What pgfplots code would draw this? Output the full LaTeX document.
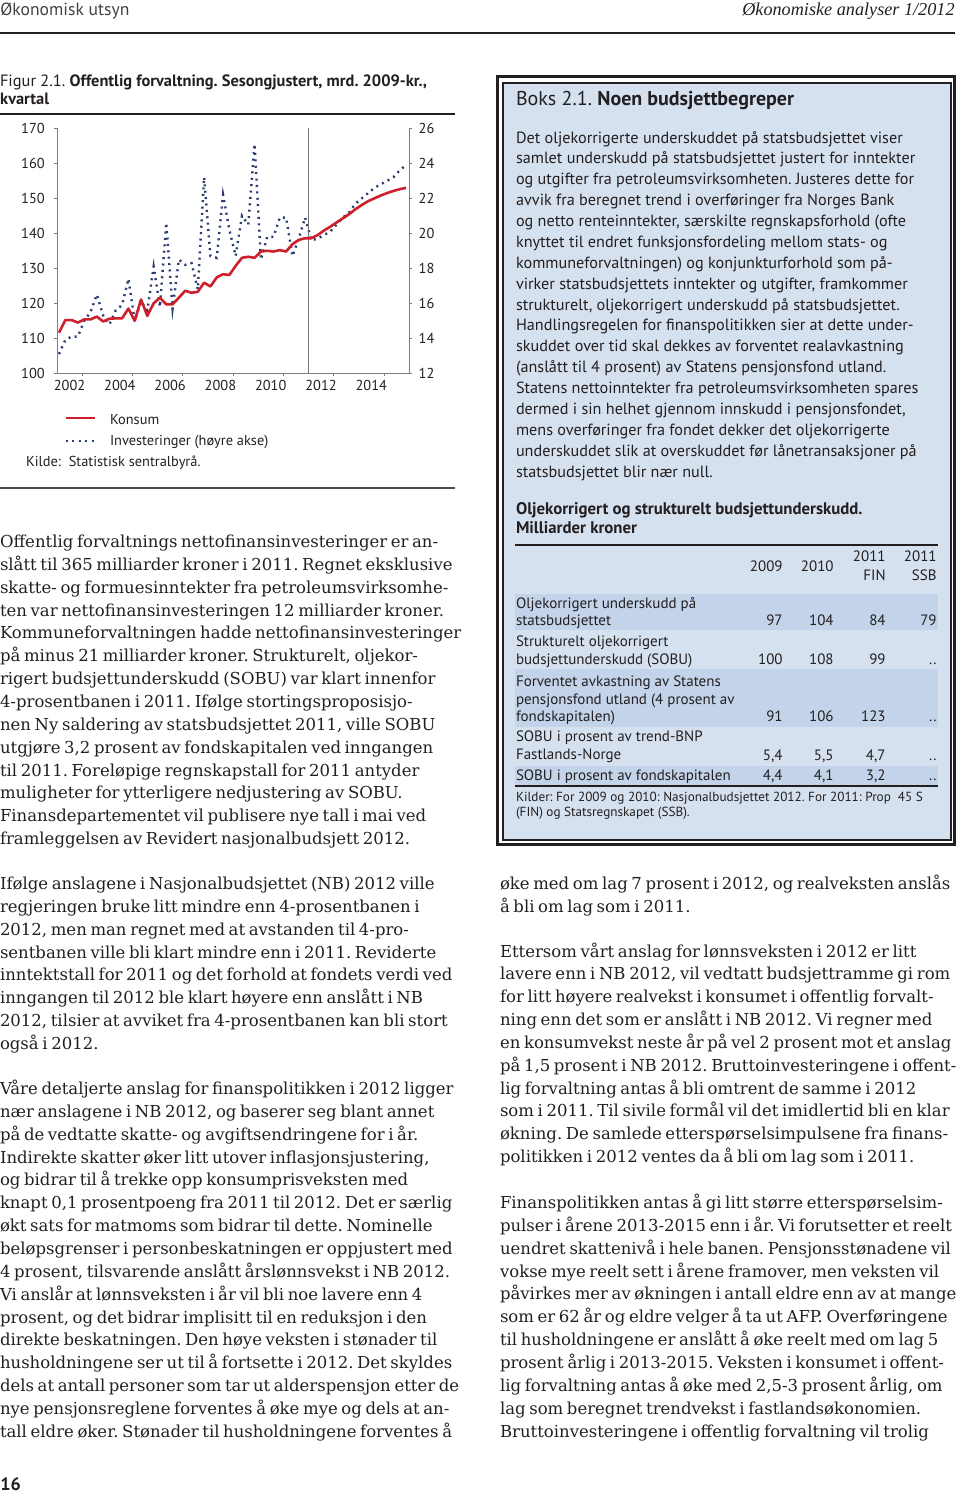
\documentclass[border=0pt]{standalone}
\usepackage{fontspec}
\setmainfont{DejaVu Serif}
\newfontfamily\sans{PT Sans}
\newfontfamily\hdserif{Liberation Serif}
\usepackage{pgfplots}
\pgfplotsset{compat=1.18}

\definecolor{ink}{RGB}{35,31,32}
\definecolor{boxfill}{RGB}{214,225,239}
\definecolor{rowfill}{RGB}{195,211,233}
\definecolor{konsum}{RGB}{205,32,44}
\definecolor{invest}{RGB}{42,60,112}

% text block: x, first baseline (px), font setup, lines separated by \newline
\newcommand\blk[4]{\node[anchor=base west,inner sep=0pt,outer sep=0pt,text=ink]
  at (#1,#2) {\vtop{\hsize=600pt\parindent=0pt\parskip=0pt\frenchspacing #3\ignorespaces #4\par}};}
\newcommand\num[3]{\node[anchor=base east,inner sep=0pt,text=ink,
  font=\sans\fontsize{7.5pt}{9pt}\selectfont] at (#1,#2) {#3};}

\newcommand\body{\fontsize{8.25pt}{11.425pt}\selectfont\spaceskip=0.22em plus 0.05em\relax}
\newcommand\boxt{\sans\fontsize{8.1pt}{10.44pt}\selectfont}
\newcommand\rowt{\sans\fontsize{7.5pt}{8.65pt}\selectfont}

\pgfplotsset{chart/.style={
    scale only axis, width=176pt, height=122.5pt,
    at={(28.5pt,-186.65pt)}, anchor=south west,
    xmin=-0.317, xmax=55.47,
    axis line style={draw=black!50, line width=0.35pt},
    tick style={draw=black!50, line width=0.35pt},
    tick align=outside, major tick length=1.3pt,
    tick label style={font=\sans\fontsize{7.2pt}{8pt}\selectfont, text=ink,
      /pgf/number format/assume math mode=true},
}}

\begin{document}
\begin{tikzpicture}
\useasboundingbox (0,0) rectangle (480pt,-746.5pt);
\begin{scope}[x=0.5pt,y=-0.5pt]

% page header
\node[anchor=base west,inner sep=0pt,text=ink!85,font=\sans\fontsize{8.8pt}{10pt}\selectfont] at (0,16) {Økonomisk utsyn};
\node[anchor=base east,inner sep=0pt,text=ink,font=\hdserif\itshape\fontsize{9.1pt}{11pt}\selectfont] at (955,16) {Økonomiske analyser 1/2012};
\draw[ink, line width=1.1pt] (0,33) -- (955,33);

% figure caption
\blk{0}{87}{\sans\fontsize{8.2pt}{9pt}\selectfont}{Figur 2.1. \textbf{Offentlig forvaltning. Sesongjustert, mrd. 2009-kr.,}\newline \textbf{kvartal}}
\draw[ink, line width=0.6pt] (0,114) -- (455,114);

% legend and source
\draw[konsum, line width=1.3pt] (66,418) -- (95,418);
\draw[invest, line width=1.2pt, dash pattern=on 1pt off 2.2pt] (66,441) -- (95,441);
\blk{110}{424}{\sans\fontsize{7.2pt}{10.5pt}\selectfont}{Konsum\newline Investeringer (høyre akse)}
\blk{26}{466}{\sans\fontsize{7.2pt}{10pt}\selectfont}{Kilde:\ \ Statistisk sentralbyrå.}
\draw[black!70, line width=1pt] (0,488) -- (455,488);

% left column
\blk{0}{547.5}{\body}{Offentlig forvaltnings nettofinansinvesteringer er an-\newline
slått til 365 milliarder kroner i 2011. Regnet eksklusive\newline
skatte- og formuesinntekter fra petroleumsvirksomhe-\newline
ten var nettofinansinvesteringen 12 milliarder kroner.\newline
Kommuneforvaltningen hadde nettofinansinvesteringer\newline
på minus 21 milliarder kroner. Strukturelt, oljekor-\newline
rigert budsjettunderskudd (SOBU) var klart innenfor\newline
4-prosentbanen i 2011. Ifølge stortingsproposisjo-\newline
nen Ny saldering av statsbudsjettet 2011, ville SOBU\newline
utgjøre 3,2 prosent av fondskapitalen ved inngangen\newline
til 2011. Foreløpige regnskapstall for 2011 antyder\newline
muligheter for ytterligere nedjustering av SOBU.\newline
Finansdepartementet vil publisere nye tall i mai ved\newline
framleggelsen av Revidert nasjonalbudsjett 2012.}

\blk{0}{889.5}{\body}{Ifølge anslagene i Nasjonalbudsjettet (NB) 2012 ville\newline
regjeringen bruke litt mindre enn 4-prosentbanen i\newline
2012, men man regnet med at avstanden til 4-pro-\newline
sentbanen ville bli klart mindre enn i 2011. Reviderte\newline
inntektstall for 2011 og det forhold at fondets verdi ved\newline
inngangen til 2012 ble klart høyere enn anslått i NB\newline
2012, tilsier at avviket fra 4-prosentbanen kan bli stort\newline
også i 2012.}

\blk{0}{1094.5}{\body}{Våre detaljerte anslag for finanspolitikken i 2012 ligger\newline
nær anslagene i NB 2012, og baserer seg blant annet\newline
på de vedtatte skatte- og avgiftsendringene for i år.\newline
Indirekte skatter øker litt utover inflasjonsjustering,\newline
og bidrar til å trekke opp konsumprisveksten med\newline
knapt 0,1 prosentpoeng fra 2011 til 2012. Det er særlig\newline
økt sats for matmoms som bidrar til dette. Nominelle\newline
beløpsgrenser i personbeskatningen er oppjustert med\newline
4 prosent, tilsvarende anslått årslønnsvekst i NB 2012.\newline
Vi anslår at lønnsveksten i år vil bli noe lavere enn 4\newline
prosent, og det bidrar implisitt til en reduksjon i den\newline
direkte beskatningen. Den høye veksten i stønader til\newline
husholdningene ser ut til å fortsette i 2012. Det skyldes\newline
dels at antall personer som tar ut alderspensjon etter de\newline
nye pensjonsreglene forventes å øke mye og dels at an-\newline
tall eldre øker. Stønader til husholdningene forventes å}

\node[anchor=base west,inner sep=0pt,text=ink,font=\sans\bfseries\fontsize{9pt}{10pt}\selectfont] at (0,1490) {16};

% right column
\blk{500}{889.5}{\body}{øke med om lag 7 prosent i 2012, og realveksten anslås\newline
å bli om lag som i 2011.}

\blk{500}{957}{\body}{Ettersom vårt anslag for lønnsveksten i 2012 er litt\newline
lavere enn i NB 2012, vil vedtatt budsjettramme gi rom\newline
for litt høyere realvekst i konsumet i offentlig forvalt-\newline
ning enn det som er anslått i NB 2012. Vi regner med\newline
en konsumvekst neste år på vel 2 prosent mot et anslag\newline
på 1,5 prosent i NB 2012. Bruttoinvesteringene i offent-\newline
lig forvaltning antas å bli omtrent de samme i 2012\newline
som i 2011. Til sivile formål vil det imidlertid bli en klar\newline
økning. De samlede etterspørselsimpulsene fra finans-\newline
politikken i 2012 ventes da å bli om lag som i 2011.}

\blk{500}{1208.5}{\body}{Finanspolitikken antas å gi litt større etterspørselsim-\newline
pulser i årene 2013-2015 enn i år. Vi forutsetter et reelt\newline
uendret skattenivå i hele banen. Pensjonsstønadene vil\newline
vokse mye reelt sett i årene framover, men veksten vil\newline
påvirkes mer av økningen i antall eldre enn av at mange\newline
som er 62 år og eldre velger å ta ut AFP. Overføringene\newline
til husholdningene er anslått å øke reelt med om lag 5\newline
prosent årlig i 2013-2015. Veksten i konsumet i offent-\newline
lig forvaltning antas å øke med 2,5-3 prosent årlig, om\newline
lag som beregnet trendvekst i fastlandsøkonomien.\newline
Bruttoinvesteringene i offentlig forvaltning vil trolig}

% box 2.1
\fill[boxfill] (503,83) rectangle (951,840);
\fill[rowfill] (515,594) rectangle (938,630);
\fill[rowfill] (515,669) rectangle (938,727);
\fill[rowfill] (515,766) rectangle (938,786);
\draw[ink, line width=1.5pt] (497.5,77) rectangle (954.5,844);
\draw[ink, line width=0.6pt] (503,83) rectangle (951,840);

\blk{516}{105}{\sans\fontsize{10pt}{11pt}\selectfont}{Boks 2.1. \textbf{Noen budsjettbegreper}}

\blk{516}{143}{\boxt}{Det oljekorrigerte underskuddet på statsbudsjettet viser\newline
samlet underskudd på statsbudsjettet justert for inntekter\newline
og utgifter fra petroleumsvirksomheten. Justeres dette for\newline
avvik fra beregnet trend i overføringer fra Norges Bank\newline
og netto renteinntekter, særskilte regnskapsforhold (ofte\newline
knyttet til endret funksjonsfordeling mellom stats- og\newline
kommuneforvaltningen) og konjunkturforhold som på-\newline
virker statsbudsjettets inntekter og utgifter, framkommer\newline
strukturelt, oljekorrigert underskudd på statsbudsjettet.\newline
Handlingsregelen for finanspolitikken sier at dette under-\newline
skuddet over tid skal dekkes av forventet realavkastning\newline
(anslått til 4 prosent) av Statens pensjonsfond utland.\newline
Statens nettoinntekter fra petroleumsvirksomheten spares\newline
dermed i sin helhet gjennom innskudd i pensjonsfondet,\newline
mens overføringer fra fondet dekker det oljekorrigerte\newline
underskuddet slik at overskuddet før lånetransaksjoner på\newline
statsbudsjettet blir nær null.}

\blk{516}{514}{\sans\bfseries\fontsize{8.4pt}{9.5pt}\selectfont}{Oljekorrigert og strukturelt budsjettunderskudd.\newline Milliarder kroner}
\draw[ink, line width=0.7pt] (515,545) -- (938,545);
\draw[ink, line width=0.7pt] (515,786) -- (938,786);

\num{783}{571.7}{2009}
\num{834}{571.7}{2010}
\num{886}{561.7}{2011}
\num{886}{580.7}{FIN}
\num{937}{561.7}{2011}
\num{937}{580.7}{SSB}

\blk{516}{608}{\rowt}{Oljekorrigert underskudd på\newline statsbudsjettet}
\num{783}{625}{97}\num{834}{625}{104}\num{886}{625}{84}\num{937}{625}{79}
\blk{516}{646.7}{\rowt}{Strukturelt oljekorrigert\newline budsjettunderskudd (SOBU)}
\num{783}{664}{100}\num{834}{664}{108}\num{886}{664}{99}\num{937}{664}{..}
\blk{516}{686.7}{\rowt}{Forventet avkastning av Statens\newline pensjonsfond utland (4 prosent av\newline fondskapitalen)}
\num{783}{721.7}{91}\num{834}{721.7}{106}\num{886}{721.7}{123}\num{937}{721.7}{..}
\blk{516}{741.7}{\rowt}{SOBU i prosent av trend-BNP\newline Fastlands-Norge}
\num{783}{760}{5,4}\num{834}{760}{5,5}\num{886}{760}{4,7}\num{937}{760}{..}
\blk{516}{780}{\rowt}{SOBU i prosent av fondskapitalen}
\num{783}{780}{4,4}\num{834}{780}{4,1}\num{886}{780}{3,2}\num{937}{780}{..}

\blk{516}{801.7}{\sans\fontsize{6.6pt}{7.5pt}\selectfont}{Kilder: For 2009 og 2010: Nasjonalbudsjettet 2012. For 2011: Prop\ \ 45 S\newline (FIN) og Statsregnskapet (SSB).}
\end{scope}

% right axis: Investeringer
\begin{axis}[chart,
    axis x line=none, axis y line*=right,
    ymin=12, ymax=26, ytick={12,14,...,26},
]
\addplot[invest, line width=1.2pt, dash pattern=on 1pt off 2.2pt] coordinates {
(0,13.1) (1,13.9) (2,14.1) (3,14.1) (4,15.0) (5,15.5) (6,16.5) (7,15.3)
(8,14.8) (9,15.6) (10,15.9) (11,17.4) (12,15.0) (13,16.1) (14,15.6) (15,18.1)
(16,15.8) (17,20.6) (18,15.7) (19,18.5) (20,18.2) (21,18.3) (22,16.8) (23,23.2)
(24,18.7) (25,18.6) (26,22.2) (27,20.2) (28,18.7) (29,21.0) (30,20.5) (31,25.1)
(32,18.5) (33,19.8) (34,19.8) (35,20.9) (36,20.9) (37,18.7) (38,19.7) (39,20.9)
(40,19.6) (41,19.7) (42,19.9) (43,20.1) (44,20.5) (45,20.9) (46,21.2) (47,21.7)
(48,22.0) (49,22.3) (50,22.6) (51,22.8) (52,23.0) (53,23.2) (54,23.6) (55,23.9)
};
\end{axis}

% left axis: Konsum
\begin{axis}[chart,
    axis x line*=bottom, axis y line*=left,
    ymin=100, ymax=170, ytick={100,110,...,170},
    yticklabel style={xshift=-1.3pt},
    xtick={3.668,11.64,19.61,27.58,35.55,43.52,51.49},
    xticklabels={},
    extra x ticks={1.675,9.645,17.615,25.585,33.555,41.525,49.495},
    extra x tick labels={2002,2004,2006,2008,2010,2012,2014},
    extra x tick style={major tick length=0pt},
]
\draw[black!55, line width=0.4pt] (axis cs:39.53,100) -- (axis cs:39.53,170);
\addplot[konsum, line width=1.3pt, line join=round] coordinates {
(0,111.6) (1,115.2) (2,115.2) (3,114.5) (4,115.4) (5,115.4) (6,116.2) (7,114.8)
(8,115.6) (9,115.7) (10,115.7) (11,118.5) (12,115.0) (13,121.1) (14,116.4) (15,120.0)
(16,121.6) (17,119.7) (18,119.7) (19,121.6) (20,123.6) (21,123.0) (22,123.3) (23,125.9)
(24,124.8) (25,127.4) (26,128.3) (27,128.1) (28,130.7) (29,133.0) (30,133.3) (31,133.0)
(32,134.8) (33,135.0) (34,134.8) (35,135.2) (36,134.8) (37,136.9) (38,138.1) (39,138.6)
(40,138.6) (41,139.5) (42,140.8) (43,141.9) (44,143.1) (45,144.3) (46,145.5) (47,146.9)
(48,148.1) (49,149.2) (50,150.0) (51,150.8) (52,151.5) (53,152.1) (54,152.6) (55,153.0)
};
\end{axis}
\end{tikzpicture}
\end{document}
